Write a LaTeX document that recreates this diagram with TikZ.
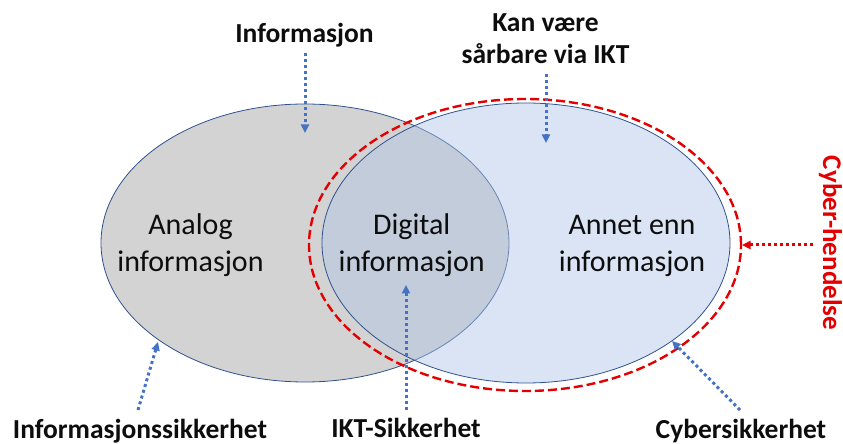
\documentclass[tikz,border=0pt]{standalone}
\usepackage{fontspec}
\setmainfont{Carlito}
\usetikzlibrary{shapes.geometric,arrows.meta}

\definecolor{outlineblue}{RGB}{47,82,143}
\definecolor{arrowblue}{RGB}{68,114,196}
\definecolor{setgray}{RGB}{211,211,211}
\definecolor{setblue}{RGB}{176,196,230}
\definecolor{cyberred}{RGB}{228,0,0}
\definecolor{txt}{RGB}{13,13,13}

\tikzset{
  setshape/.style={ellipse, inner sep=0pt, outer sep=0pt, draw=outlineblue, line width=0.8bp},
  % multi-line nodes: the base anchor sits on the last line
  bodytext/.style={font=\fontsize{30bp}{36.5bp}\selectfont, align=center, text=txt, inner sep=0pt, anchor=base},
  labeltext/.style={font=\fontsize{27.5bp}{31.6bp}\selectfont\bfseries, align=center, text=txt, inner sep=0pt, anchor=base},
  pointer/.style={draw=arrowblue, line width=3bp, dash pattern=on 3bp off 3bp,
    -{Triangle[length=8.5bp,width=8bp,fill=arrowblue]}},
  redpointer/.style={draw=cyberred, line width=3bp, dash pattern=on 3bp off 3bp,
    -{Triangle[length=8.5bp,width=8bp,fill=cyberred]}},
}

\begin{document}
\begin{tikzpicture}[x=1bp,y=-1bp]
\useasboundingbox (0,0) rectangle (843,444);

% the two sets
\node[setshape, fill=setgray, minimum width=408bp, minimum height=278bp] (analog) at (305,243) {};
\node[setshape, fill=setblue, fill opacity=0.45, minimum width=408bp, minimum height=280bp] (other) at (526,243) {};

% cyber boundary
\node[ellipse, inner sep=0pt, draw=cyberred, line width=2.4bp, dash pattern=on 9bp off 4bp,
      minimum width=432bp, minimum height=292bp] (cyber) at (525,245) {};

% region texts
\node[bodytext] (analogtxt) at (190.5,271.5) {Analog\\informasjon};
\node[bodytext] (digitaltxt) at (411.7,271.5) {Digital\\informasjon};
\node[bodytext] (annettxt) at (632,271.5) {Annet enn\\informasjon};

% labels
\node[labeltext] (info) at (304.5,42.7) {Informasjon};
\node[labeltext] (vuln) at (545.5,63.3) {Kan være\\sårbare via IKT};
\node[labeltext] (infosec) at (140,438.5) {Informasjonssikkerhet};
\node[labeltext] (iktsec) at (406,437.7) {IKT-Sikkerhet};
\node[labeltext] (cybersec) at (741,438) {Cybersikkerhet};
\node[font=\fontsize{27bp}{31.6bp}\selectfont\bfseries, text=cyberred, inner sep=0pt,
      rotate=-90, anchor=base] (event) at (823,243) {Cyber-hendelse};

% pointer ends
\coordinate (infoTail) at (305,53);
\coordinate (infoTip) at (305,133);
\coordinate (vulnTail) at (546,74);
\coordinate (vulnTip) at (546,143);
\coordinate (infosecTail) at (138,410);
\coordinate (infosecTip) at (158,342);
\coordinate (iktTail) at (406,410);
\coordinate (iktTip) at (406,285);
\coordinate (cyberTail) at (740,410);
\coordinate (cyberTip) at (672,341);
\coordinate (eventTail) at (813,245);
\coordinate (eventTip) at (742,245);

\draw[pointer] (infoTail) -- (infoTip);
\draw[pointer] (vulnTail) -- (vulnTip);
\draw[pointer] (infosecTail) -- (infosecTip);
\draw[pointer] (iktTail) -- (iktTip);
\draw[pointer] (cyberTail) -- (cyberTip);
\draw[redpointer] (eventTail) -- (eventTip);
\end{tikzpicture}
\end{document}
